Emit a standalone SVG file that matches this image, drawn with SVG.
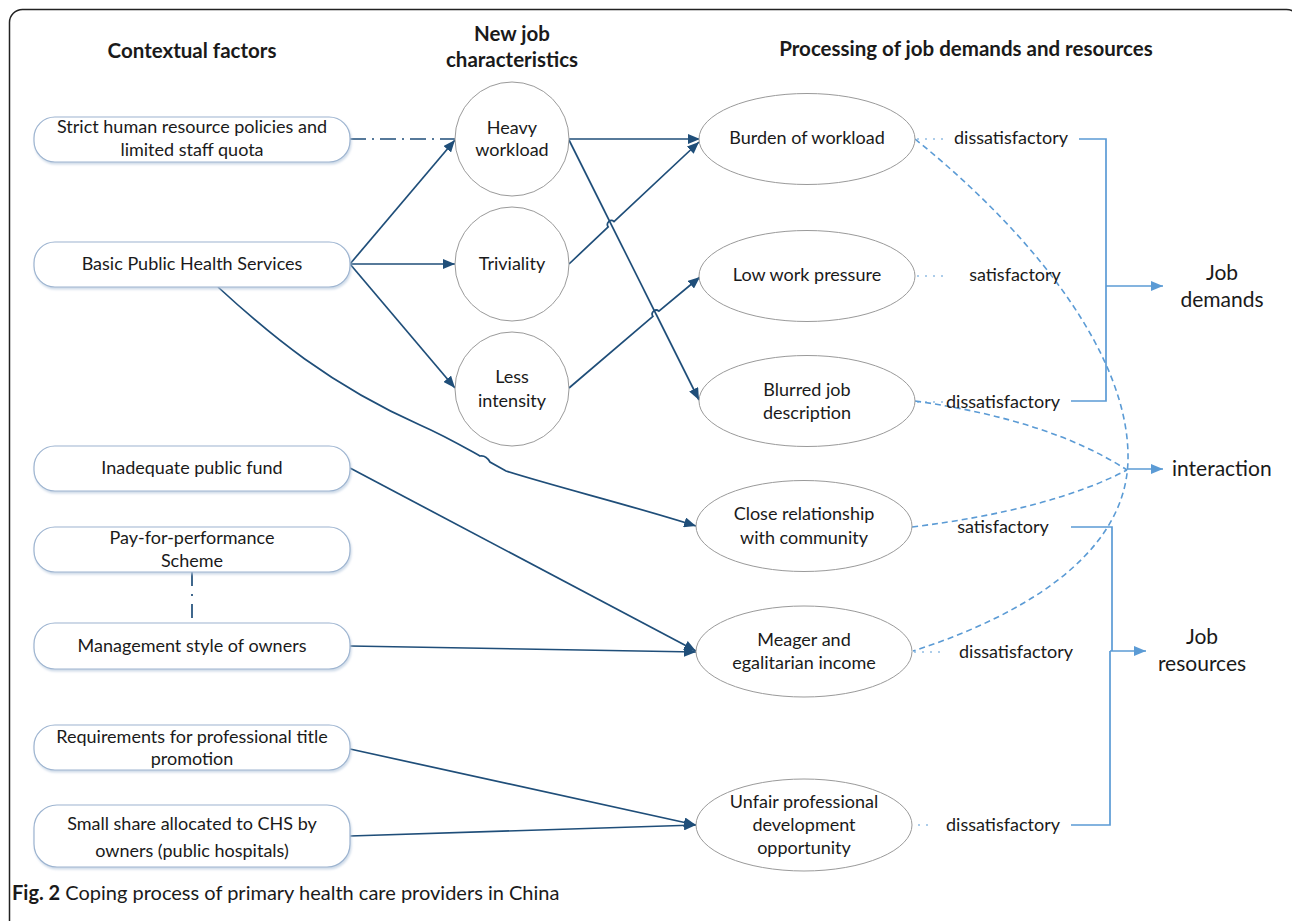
<svg xmlns="http://www.w3.org/2000/svg" width="1292" height="921" viewBox="0 0 1292 921">
<defs>
<style>
.t{font-family:Lato,'Liberation Sans',sans-serif;font-size:18px;fill:#1a1a1a;text-anchor:middle}
.h{font-weight:bold;font-size:20.5px}
.big{font-size:21px}
.box{fill:#fff;stroke:#9db4d0;stroke-width:1.2;filter:url(#sh)}
.nd{fill:#fff;stroke:#9a9a9a;stroke-width:1}
.dk{stroke:#1f4e79;stroke-width:1.7;fill:none}
.dkm{marker-end:url(#ad)}
.dd{stroke:#1f4e79;stroke-width:1.7;fill:none;stroke-dasharray:16 6 2 6}
.lb{stroke:#5b9bd5;stroke-width:1.7;fill:none}
.lbm{marker-end:url(#al)}
.dash{stroke:#5b9bd5;stroke-width:1.6;fill:none;stroke-dasharray:6 4}
.dot{stroke:#5b9bd5;stroke-width:1;fill:none;stroke-dasharray:2 6}
</style>
<filter id="sh" x="-5%" y="-20%" width="115%" height="150%">
<feDropShadow dx="1" dy="2" stdDeviation="1.2" flood-color="#b9cade" flood-opacity="0.7"/>
</filter>
<marker id="ad" markerUnits="userSpaceOnUse" markerWidth="12" markerHeight="10" refX="12" refY="5" orient="auto">
<path d="M0,0 L12,5 L0,10 z" fill="#1f4e79"/>
</marker>
<marker id="al" markerUnits="userSpaceOnUse" markerWidth="12" markerHeight="10" refX="12" refY="5" orient="auto">
<path d="M0,0 L12,5 L0,10 z" fill="#5b9bd5"/>
</marker>
</defs>
<rect x="9.5" y="9.5" width="1290" height="1000" rx="13" fill="#fff" stroke="#222" stroke-width="1.5"/>

<g id="headers">
<text class="t h" x="192" y="58">Contextual factors</text>
<text class="t h" x="512" y="41">New job</text>
<text class="t h" x="512" y="67">characteristics</text>
<text class="t h" x="966" y="56">Processing of job demands and resources</text>
</g>

<g id="connectors">
<path class="dd" d="M350,139 H455"/>
<path class="dk dkm" d="M350,264 L455,140"/>
<path class="dk dkm" d="M350,264 H455"/>
<path class="dk dkm" d="M350,264 L455,388"/>
<path class="dk dkm" d="M569,139 H700"/>
<path class="dk dkm" d="M569,140 L699,400"/>
<path class="dk dkm" d="M569,264 L608.2,226.9 A4,4 0 0 1 614.0,221.5 L699,142"/>
<path class="dk dkm" d="M569,388 L652.9,316.4 A4,4 0 0 1 658.9,311.2 L700,277"/>
<path class="dk dkm" d="M218,287 C270,335 330,385 420,425 C445,436 462,446 480,456 Q486,455 490,462 L506,471 C560,488 630,505 696,526"/>
<path class="dk dkm" d="M350,468 L696,651"/>
<path class="dk dkm" d="M350,646 L696,652"/>
<path class="dd" d="M192,572 V623" style="stroke-dasharray:14 8 2 8"/>
<path class="dk dkm" d="M350,749 L696,825"/>
<path class="dk dkm" d="M350,836 L696,825"/>

<path class="dot" d="M917,139 H944"/>
<path class="dot" d="M917,276 H944"/>
<path class="dot" d="M917,402 H944"/>
<path class="dot" d="M914,652 H946"/>
<path class="dot" d="M918,825 H932"/>

<path class="dash" d="M915,139 C1040,240 1130,360 1128,460 C1126,560 1010,620 913,651"/>
<path class="dash" d="M915,401 Q1050,420 1127,470"/>
<path class="dash" d="M912,527 Q1050,510 1127,470"/>

<path class="lb" d="M1079,139 H1106 V401 H1071"/>
<path class="lb lbm" d="M1106,286 H1163"/>
<path class="lb lbm" d="M1127,469 H1163"/>
<path class="lb" d="M1071,527 H1112 V651"/>
<path class="lb" d="M1110,651 V825 H1071"/>
<path class="lb lbm" d="M1110,651 H1146"/>
</g>

<g id="n-strict">
<rect class="box" x="34" y="117" width="316" height="45" rx="21"/>
<text class="t" x="192" y="133">Strict human resource policies and</text>
<text class="t" x="192" y="156">limited staff quota</text>
</g>
<g id="n-bphs">
<rect class="box" x="34" y="242" width="316" height="45" rx="21"/>
<text class="t" x="192" y="270">Basic Public Health Services</text>
</g>
<g id="n-fund">
<rect class="box" x="34" y="446" width="316" height="45" rx="21"/>
<text class="t" x="192" y="474">Inadequate public fund</text>
</g>
<g id="n-p4p">
<rect class="box" x="34" y="527" width="316" height="45" rx="21"/>
<text class="t" x="192" y="544">Pay-for-performance</text>
<text class="t" x="192" y="567">Scheme</text>
</g>
<g id="n-mgmt">
<rect class="box" x="34" y="623" width="316" height="46" rx="21"/>
<text class="t" x="192" y="652">Management style of owners</text>
</g>
<g id="n-req">
<rect class="box" x="34" y="725" width="316" height="45" rx="21"/>
<text class="t" x="192" y="743">Requirements for professional title</text>
<text class="t" x="192" y="765">promotion</text>
</g>
<g id="n-share">
<rect class="box" x="34" y="805" width="316" height="62" rx="23"/>
<text class="t" x="192" y="830">Small share allocated to CHS by</text>
<text class="t" x="192" y="857">owners (public hospitals)</text>
</g>

<g id="n-heavy">
<circle class="nd" cx="512" cy="139" r="57"/>
<text class="t" x="512" y="134">Heavy</text>
<text class="t" x="512" y="156">workload</text>
</g>
<g id="n-trivial">
<circle class="nd" cx="512" cy="264" r="57"/>
<text class="t" x="512" y="270">Triviality</text>
</g>
<g id="n-less">
<circle class="nd" cx="512" cy="389" r="57"/>
<text class="t" x="512" y="383">Less</text>
<text class="t" x="512" y="407">intensity</text>
</g>

<g id="n-burden">
<ellipse class="nd" cx="807" cy="139" rx="108" ry="45.5"/>
<text class="t" x="807" y="144">Burden of workload</text>
</g>
<g id="n-low">
<ellipse class="nd" cx="807" cy="276" rx="108" ry="45.5"/>
<text class="t" x="807" y="281">Low work pressure</text>
</g>
<g id="n-blurred">
<ellipse class="nd" cx="807" cy="401" rx="108" ry="45.5"/>
<text class="t" x="807" y="396">Blurred job</text>
<text class="t" x="807" y="419">description</text>
</g>
<g id="n-close">
<ellipse class="nd" cx="804" cy="526" rx="108" ry="45.5"/>
<text class="t" x="804" y="520">Close relationship</text>
<text class="t" x="804" y="544">with community</text>
</g>
<g id="n-meager">
<ellipse class="nd" cx="804" cy="651.5" rx="108" ry="45.5"/>
<text class="t" x="804" y="646">Meager and</text>
<text class="t" x="804" y="669">egalitarian income</text>
</g>
<g id="n-unfair">
<ellipse class="nd" cx="804" cy="825" rx="108" ry="46"/>
<text class="t" x="804" y="808">Unfair professional</text>
<text class="t" x="804" y="831">development</text>
<text class="t" x="804" y="854">opportunity</text>
</g>

<g id="labels">
<text class="t" x="1011" y="144">dissatisfactory</text>
<text class="t" x="1015" y="281">satisfactory</text>
<text class="t" x="1003" y="408">dissatisfactory</text>
<text class="t" x="1003" y="533">satisfactory</text>
<text class="t" x="1016" y="658">dissatisfactory</text>
<text class="t" x="1003" y="831">dissatisfactory</text>
</g>

<g id="n-demands">
<text class="t big" x="1222" y="280">Job</text>
<text class="t big" x="1222" y="307">demands</text>
</g>
<g id="n-interaction">
<text class="t big" x="1172" y="476" style="text-anchor:start">interaction</text>
</g>
<g id="n-resources">
<text class="t big" x="1202" y="644">Job</text>
<text class="t big" x="1202" y="671">resources</text>
</g>

<g id="caption">
<text class="t" x="12" y="900" style="text-anchor:start;font-size:20px"><tspan font-weight="bold">Fig. 2</tspan> Coping process of primary health care providers in China</text>
</g>
</svg>
